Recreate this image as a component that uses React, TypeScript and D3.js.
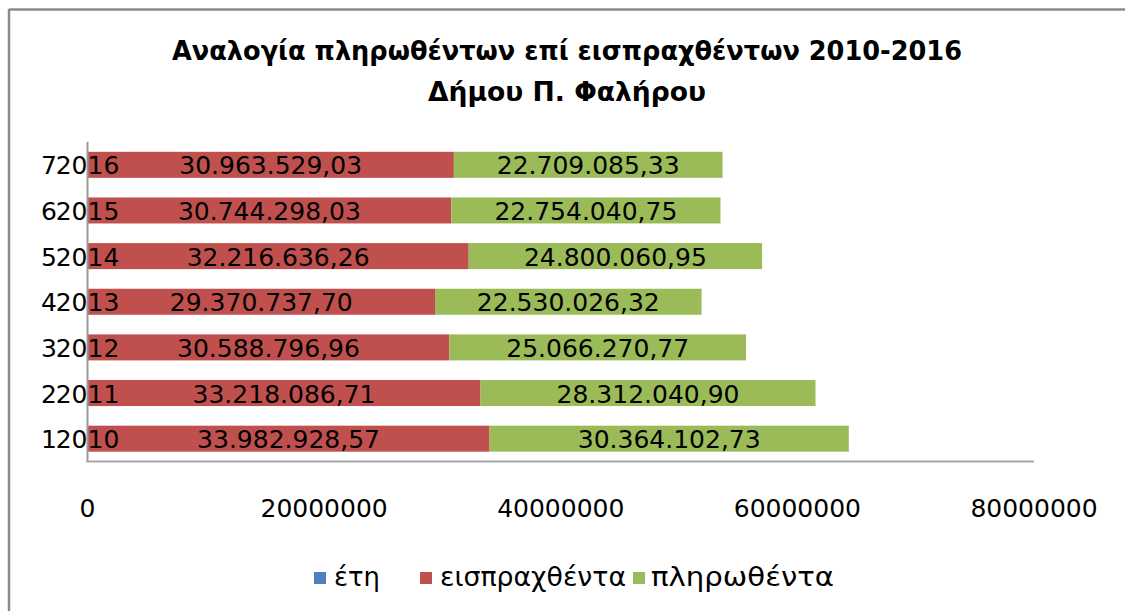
import React from "react";
import * as d3 from "d3";

const categories = ["1", "2", "3", "4", "5", "6", "7"];
const years = [2010, 2011, 2012, 2013, 2014, 2015, 2016];
const receipts = [33982928.57, 33218086.71, 30588796.96, 29370737.7, 32216636.26, 30744298.03, 30963529.03];
const payments = [30364102.73, 28312040.9, 25066270.77, 22530026.32, 24800060.95, 22754040.75, 22709085.33];
const xTicks = [0, 20000000, 40000000, 60000000, 80000000];
const seriesNames = ["έτη", "εισπραχθέντα", "πληρωθέντα"];
const seriesColors = ["#4F81BD", "#C0504D", "#9BBB59"];
const titleLines = ["Αναλογία πληρωθέντων επί εισπραχθέντων 2010-2016", "Δήμου Π. Φαλήρου"];

const W = 1125;
const H = 611;
const FONT = "'DejaVu Sans', sans-serif";

const grLocale = d3.formatLocale({ decimal: ",", thousands: ".", grouping: [3], currency: ["", "€"] });
const fmtVal = grLocale.format(",.2f");

export default function App() {
  const x = d3.scaleLinear().domain([0, 80000000]).range([87.5, 1034]);
  const y = d3
    .scaleBand<string>()
    .domain([...categories].reverse())
    .range([142, 461.5])
    .paddingInner(0.43)
    .paddingOuter(0.215);
  const bw = y.bandwidth();

  const rows = categories.map((c, i) => {
    const y0 = years[i];
    const r = receipts[i];
    const p = payments[i];
    return { c, year: y0, r, p, s0: 0, s1: y0, s2: y0 + r, s3: y0 + r + p };
  });

  const legendItems = [
    { name: seriesNames[0], color: seriesColors[0], sx: 314, tx: 334, len: 46 },
    { name: seriesNames[1], color: seriesColors[1], sx: 420, tx: 440, len: 186 },
    { name: seriesNames[2], color: seriesColors[2], sx: 633, tx: 651, len: 183 },
  ];

  return (
    <svg
      width={W}
      height={H}
      style={{ position: "absolute", left: 0, top: 0, background: "#fff" }}
      fontFamily={FONT}
    >
      <rect x={0} y={0} width={W} height={H} fill="#fff" />
      {/* outer chart border (clipped at right/bottom) */}
      <line x1={9} y1={9.5} x2={W} y2={9.5} stroke="#8a8a8a" strokeWidth={2.5} />
      <line x1={9} y1={9} x2={9} y2={H} stroke="#8a8a8a" strokeWidth={2.5} />

      {/* title */}
      <text x={567} y={60} textAnchor="middle" fontWeight="bold" fontSize={27} fill="#000"
        textLength={790} lengthAdjust="spacingAndGlyphs">
        {titleLines[0]}
      </text>
      <text x={567} y={101} textAnchor="middle" fontWeight="bold" fontSize={27} fill="#000"
        textLength={278} lengthAdjust="spacingAndGlyphs">
        {titleLines[1]}
      </text>

      {/* bars */}
      {rows.map((d) => {
        const yy = y(d.c)!;
        return (
          <g key={d.c}>
            <rect x={x(d.s0)} y={yy} width={x(d.s1) - x(d.s0)} height={bw} fill={seriesColors[0]} />
            <rect x={x(d.s1)} y={yy} width={x(d.s2) - x(d.s1)} height={bw} fill={seriesColors[1]} />
            <rect x={x(d.s2)} y={yy} width={x(d.s3) - x(d.s2)} height={bw} fill={seriesColors[2]} />
          </g>
        );
      })}

      {/* axes */}
      <line x1={x(0)} y1={y.range()[0]} x2={x(0)} y2={462} stroke="#9a9a9a" strokeWidth={2} />
      <line x1={x(0) - 1} y1={461.5} x2={x(80000000)} y2={461.5} stroke="#a6a6a6" strokeWidth={2} />

      {/* category labels */}
      {rows.map((d) => (
        <text key={"c" + d.c} x={57} y={y(d.c)! + bw / 2 + 9.5} textAnchor="end" fontSize={25} fill="#000">
          {d.c}
        </text>
      ))}

      {/* data labels */}
      {rows.map((d) => {
        const yc = y(d.c)! + bw / 2 + 9.5;
        return (
          <g key={"l" + d.c} fontSize={25} fill="#000">
            <text x={(x(d.s0) + x(d.s1)) / 2} y={yc} textAnchor="middle">{String(d.year)}</text>
            <text x={(x(d.s1) + x(d.s2)) / 2} y={yc} textAnchor="middle">{fmtVal(d.r)}</text>
            <text x={(x(d.s2) + x(d.s3)) / 2} y={yc} textAnchor="middle">{fmtVal(d.p)}</text>
          </g>
        );
      })}

      {/* x tick labels */}
      {xTicks.map((t) => (
        <text key={"t" + t} x={x(t)} y={517} textAnchor="middle" fontSize={25} fill="#000">
          {String(t)}
        </text>
      ))}

      {/* legend */}
      {legendItems.map((l) => (
        <g key={l.name}>
          <rect x={l.sx} y={572} width={12} height={12} fill={l.color} />
          <text x={l.tx} y={586} fontSize={26} fill="#000" textLength={l.len} lengthAdjust="spacingAndGlyphs">
            {l.name}
          </text>
        </g>
      ))}
    </svg>
  );
}
